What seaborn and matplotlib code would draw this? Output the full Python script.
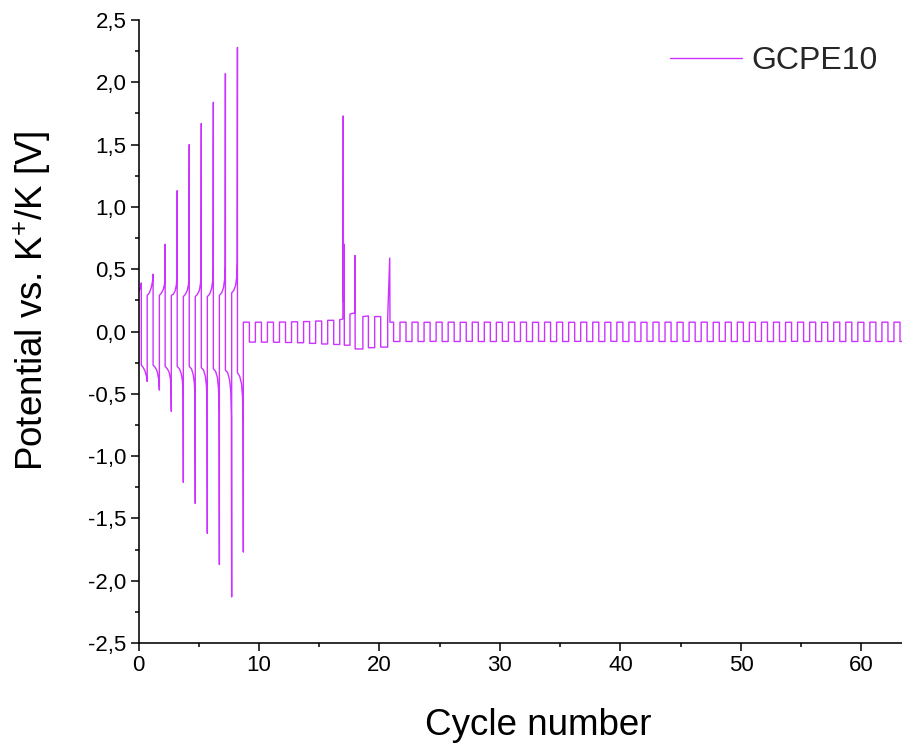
import numpy as np
import pandas as pd
import matplotlib
matplotlib.use("Agg")
import matplotlib.pyplot as plt
import seaborn as sns
from matplotlib.ticker import MultipleLocator, FuncFormatter

# ---------------------------------------------------------------------------
# Galvanostatic cycling of GCPE10 (potential vs. K+/K over cycle number)
# ---------------------------------------------------------------------------

# Early cycles: charge / discharge halves with growing overpotential spikes
early_cycle = [
    0.00, 0.10, 0.18, 0.23,
    0.23, 0.40, 0.55, 0.66, 0.72,
    0.72, 0.90, 1.05, 1.16, 1.21,
    1.21, 1.40, 1.55, 1.67, 1.73,
    1.73, 1.91, 2.06, 2.16, 2.20, 2.21,
    2.21, 2.40, 2.55, 2.65, 2.70, 2.72,
    2.72, 2.90, 3.05, 3.15, 3.19, 3.21,
    3.21, 3.40, 3.55, 3.65, 3.70, 3.72,
    3.72, 3.90, 4.05, 4.15, 4.19, 4.21,
    4.21, 4.40, 4.55, 4.64, 4.69, 4.71,
    4.71, 4.90, 5.05, 5.15, 5.19, 5.21,
    5.21, 5.40, 5.55, 5.64, 5.69, 5.71,
    5.71, 5.90, 6.05, 6.15, 6.19, 6.21,
    6.21, 6.40, 6.55, 6.64, 6.69, 6.71,
    6.71, 6.90, 7.05, 7.15, 7.19, 7.21,
    7.21, 7.40, 7.56, 7.66, 7.71, 7.73,
    7.73, 7.91, 8.06, 8.15, 8.19, 8.21,
    8.21, 8.40, 8.55, 8.63, 8.68, 8.70,
]
early_potential = [
    0.32, 0.34, 0.36, 0.39,
    -0.27, -0.29, -0.32, -0.36, -0.40,
    0.29, 0.31, 0.35, 0.40, 0.46,
    -0.27, -0.29, -0.32, -0.38, -0.47,
    0.29, 0.31, 0.34, 0.38, 0.44, 0.70,
    -0.28, -0.30, -0.33, -0.38, -0.46, -0.64,
    0.29, 0.30, 0.33, 0.38, 0.45, 1.13,
    -0.28, -0.30, -0.34, -0.40, -0.52, -1.21,
    0.28, 0.30, 0.33, 0.38, 0.46, 1.50,
    -0.28, -0.30, -0.35, -0.42, -0.56, -1.38,
    0.28, 0.30, 0.33, 0.39, 0.48, 1.67,
    -0.29, -0.31, -0.36, -0.44, -0.60, -1.62,
    0.28, 0.30, 0.34, 0.40, 0.50, 1.84,
    -0.30, -0.32, -0.37, -0.46, -0.64, -1.87,
    0.29, 0.31, 0.35, 0.42, 0.53, 2.07,
    -0.31, -0.33, -0.39, -0.48, -0.68, -2.13,
    0.31, 0.33, 0.37, 0.44, 0.56, 2.28,
    -0.33, -0.36, -0.42, -0.52, -0.72, -1.77,
]

# Stable cycling after the activation stage (one value per cycle)
stable_a_start = 8.70
stable_a_hi = [0.075, 0.075, 0.075, 0.076, 0.078, 0.080, 0.084, 0.090]
stable_a_lo = [-0.085, -0.085, -0.086, -0.088, -0.090, -0.095, -0.100, -0.104]

# Disturbed cycles around cycle 17-21
dist_cycle = [16.70, 16.70, 16.96, 16.99, 17.01, 17.08, 17.08, 17.55, 17.55,
              17.95, 17.97, 17.98, 18.62, 18.62, 19.08, 19.08, 19.60, 19.60,
              20.10, 20.10, 20.68, 20.68, 20.85, 20.87, 21.17, 21.17, 21.70]
dist_potential = [-0.104, 0.095, 0.100, 1.73, 0.24, 0.70, -0.11, -0.11, 0.14,
                  0.15, 0.61, -0.14, -0.14, 0.12, 0.125, -0.13, -0.13, 0.12,
                  0.12, -0.125, -0.125, 0.11, 0.59, 0.075, 0.075, -0.08, -0.08]

stable_b_start = 21.70
stable_b_hi = [0.075, 0.075, 0.074, 0.075, 0.075, 0.074, 0.075, 0.075, 0.074, 0.075,
               0.075, 0.074, 0.075, 0.075, 0.074, 0.075, 0.075, 0.074, 0.075, 0.075,
               0.074, 0.075, 0.075, 0.074, 0.075, 0.075, 0.074, 0.075, 0.075, 0.074,
               0.075, 0.075, 0.074, 0.075, 0.075, 0.074, 0.075, 0.075, 0.074, 0.075,
               0.075, 0.075]
stable_b_lo = [-0.080, -0.080, -0.079, -0.080, -0.080, -0.079, -0.080, -0.080, -0.079, -0.080,
               -0.080, -0.079, -0.080, -0.080, -0.079, -0.080, -0.080, -0.079, -0.080, -0.080,
               -0.079, -0.080, -0.080, -0.079, -0.080, -0.080, -0.079, -0.080, -0.080, -0.079,
               -0.080, -0.080, -0.079, -0.080, -0.080, -0.079, -0.080, -0.080, -0.079, -0.080,
               -0.080, -0.080]
last_cycle = 63.45

x_ticks = [0, 10, 20, 30, 40, 50, 60]
series_name = "GCPE10"
LINE = "#CC33FF"


def square_cycles(start, hi, lo, end=None):
    """Constant-current cycles: one charge plateau then one discharge plateau per cycle."""
    xs, ys = [], []
    for i, (h, l) in enumerate(zip(hi, lo)):
        t0 = start + i
        t1 = t0 + 0.5
        t2 = t0 + 1.0
        if end is not None:
            t1, t2 = min(t1, end), min(t2, end)
        xs += [t0, t1, t1, t2]
        ys += [h, h, l, l]
    return xs, ys


ax_x, ax_y = square_cycles(stable_a_start, stable_a_hi, stable_a_lo)
bx_x, bx_y = square_cycles(stable_b_start, stable_b_hi, stable_b_lo, end=last_cycle)

cycles = early_cycle + ax_x + dist_cycle + bx_x
potential = early_potential + ax_y + dist_potential + bx_y
df = pd.DataFrame({"Cycle number": cycles, "Potential": potential})

sns.set_theme(style="ticks")
plt.rcParams["font.family"] = ["Liberation Sans", "DejaVu Sans"]
plt.rcParams["mathtext.default"] = "regular"

fig = plt.figure(figsize=(9.03, 7.47), dpi=100)
ax = fig.add_axes([0.1534, 0.1392, 0.8466, 0.8340])

sns.lineplot(data=df, x="Cycle number", y="Potential", sort=False, estimator=None,
             color=LINE, linewidth=1.0, label=series_name, ax=ax)

ax.set_xlim(0, last_cycle)
ax.set_ylim(-2.5, 2.5)
ax.set_xticks(x_ticks)
ax.xaxis.set_minor_locator(MultipleLocator(5))
ax.yaxis.set_major_locator(MultipleLocator(0.5))
ax.yaxis.set_minor_locator(MultipleLocator(0.25))
ax.yaxis.set_major_formatter(FuncFormatter(lambda v, p: f"{v:.1f}".replace(".", ",")))

for side in ("top", "right"):
    ax.spines[side].set_visible(False)
for side in ("left", "bottom"):
    ax.spines[side].set_linewidth(1.15)
    ax.spines[side].set_color("black")

ax.tick_params(which="major", direction="out", length=5.8, width=1.1, labelsize=16,
               color="black", labelcolor="black", pad=3)
ax.tick_params(which="minor", direction="out", length=2.9, width=1.1, color="black")

ax.set_xlabel("Cycle number", fontsize=26.5, color="black")
ax.set_ylabel("Potential vs. K$^{+}$/K [V]", fontsize=26.5, color="black")
ax.xaxis.set_label_coords(0.523, -0.104)
ax.yaxis.set_label_coords(-0.112, 0.55)

ax.legend(loc="upper right", bbox_to_anchor=(0.967, 0.958), frameon=False, fontsize=23,
          handlelength=2.25, handletextpad=0.31, borderaxespad=0, borderpad=0)

fig.savefig("out.png", dpi=100)
